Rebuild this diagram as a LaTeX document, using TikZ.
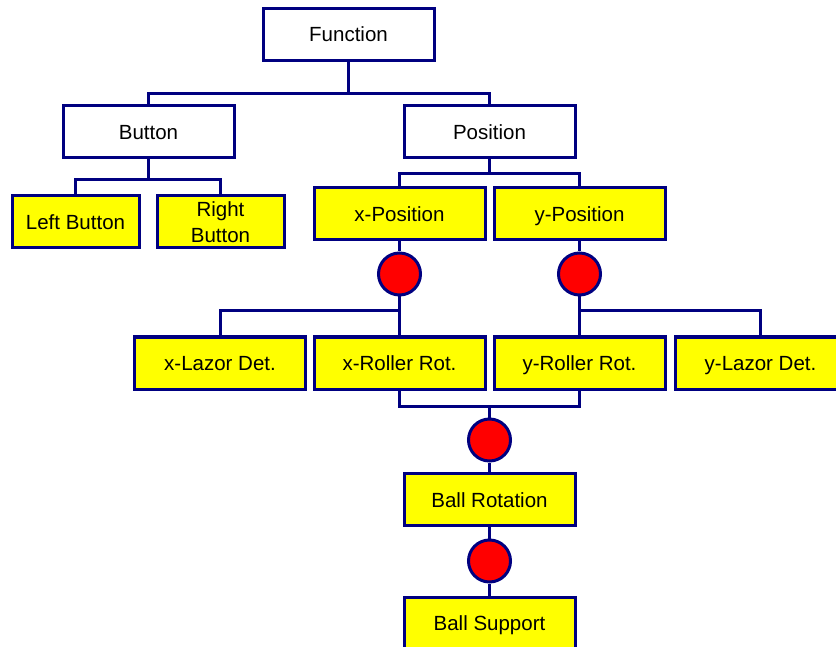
\documentclass[tikz,border=0pt]{standalone}
\usepackage{fontspec}
\setmainfont{Liberation Sans}
\definecolor{navyline}{RGB}{0,0,128}
\definecolor{boxyellow}{RGB}{255,255,0}
\definecolor{dotred}{RGB}{255,0,0}
\begin{document}
\begin{tikzpicture}[x=1pt,y=-1pt,
  base/.style={draw=navyline,line width=3pt,minimum width=171pt,minimum height=52pt,inner sep=0pt,align=center,text height=15pt,text depth=0pt,font=\fontsize{20.5}{26}\selectfont},
  wbox/.style={base,fill=white},
  ybox/.style={base,fill=boxyellow},
  sbox/.style={base,fill=boxyellow,minimum width=127pt},
  dot/.style={circle,draw=navyline,fill=dotred,line width=3pt,minimum size=42pt,inner sep=0pt},
  wire/.style={draw=navyline,line width=3pt}]
\useasboundingbox (0,0) rectangle (836,647);
\node[wbox] (func) at (348.5,34.5) {Function};
\node[wbox] (button) at (148.5,132) {Button};
\node[wbox] (pos) at (489.5,132) {Position};
\node[sbox] (lb) at (75.5,222) {Left Button};
\node[sbox,text height=41pt,text depth=0pt] (rb) at (220.5,222) {Right\\Button};
\node[ybox] (xp) at (399.5,214) {x-Position};
\node[ybox] (yp) at (579.5,214) {y-Position};
\node[dot] (cx) at (399.5,274) {};
\node[dot] (cy) at (579.5,274) {};
\node[ybox] (xl) at (220,363) {x-Lazor Det.};
\node[ybox] (xr) at (399.5,363) {x-Roller Rot.};
\node[ybox] (yr) at (579.5,363) {y-Roller Rot.};
\node[ybox] (yl) at (760.5,363) {y-Lazor Det.};
\node[dot] (cb) at (489.5,440) {};
\node[ybox] (br) at (489.5,499.5) {Ball Rotation};
\node[dot] (cs) at (489.5,561) {};
\node[ybox] (bs) at (489.5,623) {Ball Support};
\path[wire] (func.south) -- (348.5,94) coordinate (j1);
\path[wire] (button.north) |- (j1) -| (pos.north);
\path[wire] (button.south) -- (148.5,180) coordinate (j2);
\path[wire] (lb.north) |- (j2) -| (rb.north);
\path[wire] (pos.south) -- (489.5,174) coordinate (j3);
\path[wire] (xp.north) |- (j3) -| (yp.north);
\path[wire] (xp.south) -- (cx.north);
\path[wire] (yp.south) -- (cy.north);
\path[wire] (cx.south) -- (xr.north);
\path[wire] (cy.south) -- (yr.north);
\path[wire] (xl.north) |- (cx.south |- 0,311);
\path[wire] (yl.north) |- (cy.south |- 0,311);
\path[wire] (xr.south) |- (489.5,406) coordinate (j4) -| (yr.south);
\path[wire] (j4) -- (cb.north);
\path[wire] (cb.south) -- (br.north);
\path[wire] (br.south) -- (cs.north);
\path[wire] (cs.south) -- (bs.north);
\end{tikzpicture}
\end{document}
